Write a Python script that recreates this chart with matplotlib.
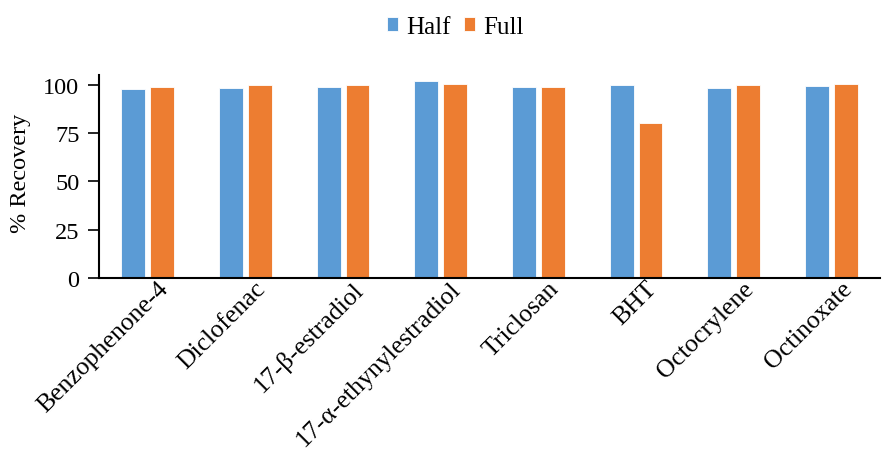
import matplotlib
matplotlib.use("Agg")
import matplotlib.pyplot as plt
import matplotlib.transforms as mtransforms
import numpy as np

compounds = ["Benzophenone-4", "Diclofenac", "17-β-estradiol", "17-α-ethynylestradiol",
             "Triclosan", "BHT", "Octocrylene", "Octinoxate"]
half = [97.5, 98.2, 98.7, 102.1, 99.0, 99.9, 98.3, 99.4]
full = [98.9, 100.0, 99.7, 100.3, 98.9, 79.9, 99.7, 100.4]
yticks = [0, 25, 50, 75, 100]

plt.rcParams["font.family"] = ["Liberation Serif", "DejaVu Serif"]

fig = plt.figure(figsize=(8.91, 4.52), dpi=100)
ax = fig.add_axes([0.111, 0.383, 0.877, 0.449])

x = np.arange(len(compounds))
w = 0.245
gap = 0.05
ax.bar(x - (w + gap) / 2, half, width=w, color="#5B9BD5", edgecolor="white", linewidth=0.6, label="Half")
ax.bar(x + (w + gap) / 2, full, width=w, color="#ED7D31", edgecolor="white", linewidth=0.6, label="Full")

ax.set_xlim(-0.5, len(compounds) - 0.5)
ax.set_ylim(0, 105)
ax.set_yticks(yticks)
ax.tick_params(axis="y", labelsize=17.5, length=8, width=1.2, direction="out", color="black", pad=6)
ax.tick_params(axis="x", length=0, pad=0)
ax.set_xticks(x)
ax.set_xticklabels(compounds, rotation=45, ha="right", rotation_mode="anchor", fontsize=18.5)
shift = mtransforms.ScaledTranslation(9 / 100, 1 / 100, fig.dpi_scale_trans)
for lab in ax.get_xticklabels():
    lab.set_va("top")
    lab.set_transform(lab.get_transform() + shift)

for s in ["top", "right"]:
    ax.spines[s].set_visible(False)
ax.spines["left"].set_linewidth(1.5)
ax.spines["bottom"].set_linewidth(1.5)

ax.set_ylabel("% Recovery", fontsize=17.5, labelpad=8)
ax.yaxis.set_label_coords(-0.087, 0.52)

fig.legend(loc="center", bbox_to_anchor=(0.511, 0.938), ncol=2, frameon=False, fontsize=18,
           handlelength=0.45, handleheight=0.45, handletextpad=0.3, columnspacing=0.55)

fig.savefig("out.png", dpi=100)
